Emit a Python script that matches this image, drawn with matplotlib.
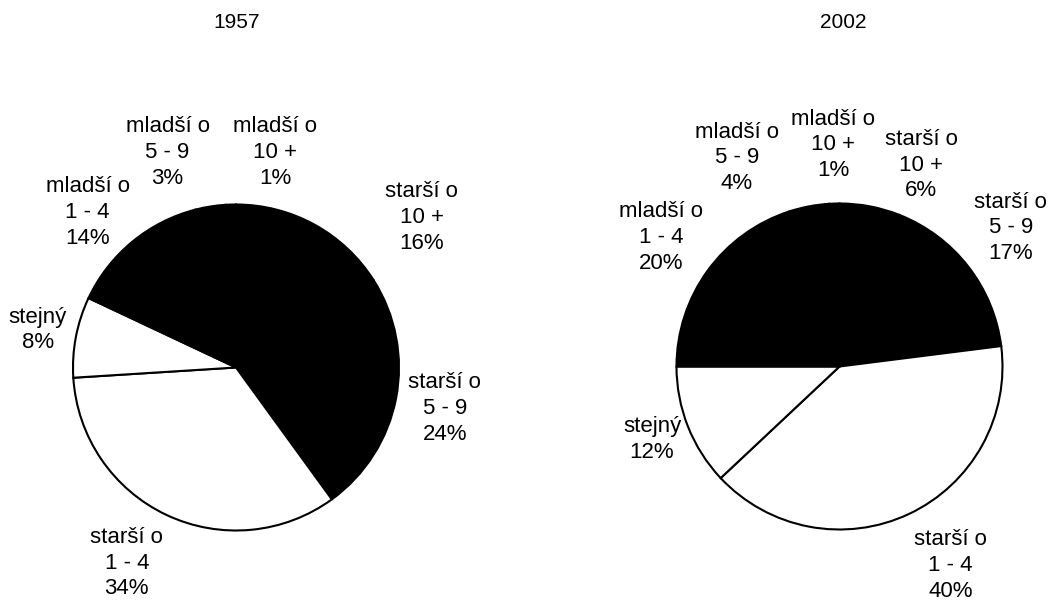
import matplotlib
matplotlib.use("Agg")
import matplotlib.pyplot as plt

plt.rcParams['font.family'] = ['Liberation Sans', 'DejaVu Sans']

# Categories in drawing order (clockwise from 12 o'clock)
categories = ["starší o\n10 +", "starší o\n5 - 9", "starší o\n1 - 4", "stejný",
              "mladší o\n1 - 4", "mladší o\n5 - 9", "mladší o\n10 +"]
values_1957 = [16, 24, 34, 8, 14, 3, 1]
values_2002 = [6, 17, 40, 12, 20, 4, 1]
years = ["1957", "2002"]
colors = ["black", "black", "white", "white", "black", "black", "black"]

# label positions (in pie-radius units), manually arranged as in the reference
label_pos_1957 = [(1.14, 0.92), (1.28, -0.25), (-0.67, -1.20), (-1.215, 0.23),
                  (-0.91, 0.95), (-0.42, 1.32), (0.24, 1.32)]
label_pos_2002 = [(0.50, 1.235), (1.05, 0.85), (0.68, -1.22), (-1.15, -0.45),
                  (-1.095, 0.79), (-0.63, 1.28), (-0.04, 1.36)]

W, H = 1057, 600
fig = plt.figure(figsize=(W / 100, H / 100), dpi=100)

R_PX = 163
LIM = 1.4
box = 2 * LIM * R_PX
centers = [(236, 367.5), (839.5, 366.5)]
title_x = [237, 843]

for (cx, cy), vals, lpos, yr, tx in zip(centers, [values_1957, values_2002],
                                         [label_pos_1957, label_pos_2002], years, title_x):
    ax = fig.add_axes([(cx - box / 2) / W, (H - cy - box / 2) / H, box / W, box / H])
    ax.pie(vals, colors=colors, startangle=90, counterclock=False, radius=1,
           wedgeprops=dict(edgecolor="black", linewidth=1.5))
    ax.set_xlim(-LIM, LIM)
    ax.set_ylim(-LIM, LIM)
    ax.set_aspect("equal")
    ax.axis("off")
    for cat, v, (lx, ly) in zip(categories, vals, lpos):
        ax.text(lx, ly, f"{cat}\n{v}%", ha="center", va="center", fontsize=16,
                linespacing=1.3, color="black")
    fig.text(tx / W, 1 - 22 / H, yr, ha="center", va="center", fontsize=15)

fig.savefig("out.png", dpi=100, facecolor="white")
